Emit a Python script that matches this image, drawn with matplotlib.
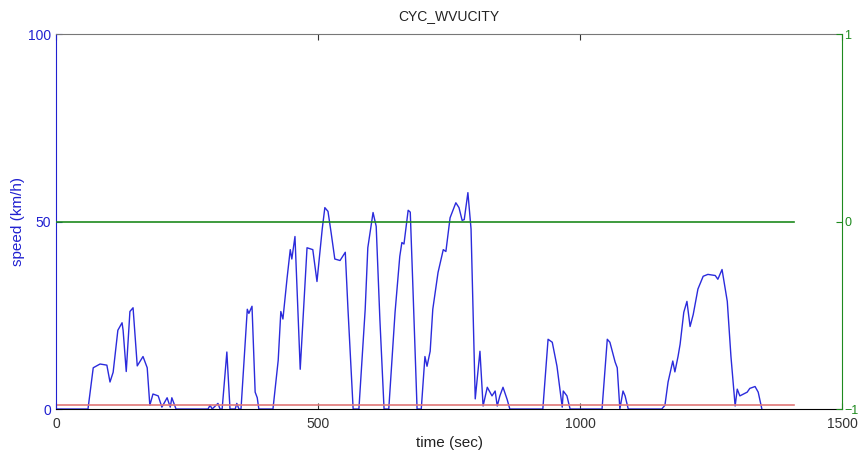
import matplotlib.pyplot as plt
import numpy as np

plt.rcParams['font.family'] = ['Liberation Sans', 'DejaVu Sans']

# speed trace (time in sec, speed in km/h)
time_sec = [0, 61, 71, 84, 97, 103, 109, 118, 126, 128, 134, 141, 147, 155, 166, 174,
            179, 185, 195, 202, 212, 218, 221, 229, 290, 294, 298, 309, 313, 317, 326,
            332, 342, 345, 349, 353, 365, 368, 374, 380, 384, 387, 414, 424, 429, 433,
            441, 447, 450, 456, 466, 479, 490, 498, 508, 513, 519, 525, 532, 542, 552,
            557, 567, 578, 590, 595, 605, 611, 618, 626, 635, 647, 656, 660, 664, 672,
            676, 681, 689, 697, 704, 708, 714, 719, 729, 739, 744, 752, 763, 769, 775,
            779, 786, 792, 800, 809, 815, 823, 832, 838, 842, 847, 853, 861, 866, 929,
            939, 947, 956, 966, 968, 975, 981, 1042, 1052, 1057, 1067, 1071, 1076, 1082,
            1086, 1092, 1156, 1162, 1168, 1177, 1181, 1187, 1191, 1198, 1204, 1210, 1216,
            1225, 1235, 1244, 1258, 1263, 1271, 1281, 1288, 1296, 1300, 1305, 1319, 1324,
            1334, 1340, 1347]
speed_kmh = [0, 0, 11, 12, 11.7, 7.2, 9.8, 21, 23, 21, 10, 26, 27, 11.5, 14, 11,
             1, 4, 3.5, 0.5, 3, 0.5, 3, 0, 0, 1, 0, 1.5, 0, 0, 15.2,
             0, 0, 1.5, 0, 0, 26.6, 25.5, 27.4, 4.5, 3, 0, 0, 13, 26, 24,
             35, 42.5, 40, 46, 10.6, 43, 42.5, 34, 48, 53.7, 52.7, 47, 40, 39.6, 41.8,
             27, 0, 0, 26.6, 43, 52.4, 48.7, 24, 0, 0, 25.8, 40.7, 44.4, 44, 53,
             52.5, 32.7, 0, 0, 14, 11.4, 15.4, 26.6, 36.4, 42.5, 42, 51, 55, 53.7, 50.3,
             50.5, 57.7, 48, 2.7, 15.4, 0.8, 5.8, 3.5, 4.8, 0.8, 3.5, 5.8, 2.5, 0, 0,
             18.6, 17.8, 11.4, 0.5, 4.8, 3.5, 0, 0, 18.6, 17.8, 12.5, 11, 0, 4.8,
             3.5, 0, 0, 1, 7.2, 12.8, 9.9, 14, 17.3, 25.8, 28.7, 22, 25.2,
             32, 35.4, 35.9, 35.6, 34.6, 37.2, 28.7, 14, 0.8, 5.3, 3.5, 4.5, 5.5,
             6, 4.5, 0]

cycle_end = 1408
red_level = 1      # left axis (km/h)
green_level = 0    # right axis

fig = plt.figure(figsize=(8.58, 4.57), dpi=100)
ax = fig.add_axes([0.0653, 0.105, 0.9161, 0.8206])

ax.plot(time_sec, speed_kmh, color='#2b2bdc', linewidth=1.0)
ax.plot([0, cycle_end], [red_level, red_level], color='#e07878', linewidth=1.2)
ax.set_xlim(0, 1500)
ax.set_ylim(0, 100)
ax.set_xticks([0, 500, 1000, 1500])
ax.set_yticks([0, 50, 100])
ax.tick_params(axis='x', direction='in', top=True, length=4, colors='#333333',
               labelsize=10, pad=6)
ax.tick_params(axis='y', direction='in', length=4, colors='#2020d0', labelsize=10)
ax.spines['left'].set_color('#2020d0')
ax.spines['bottom'].set_color('black')
ax.spines['top'].set_color('#777777')
ax.spines['right'].set_visible(False)
ax.set_ylabel('speed (km/h)', color='#2020d0', fontsize=11, labelpad=2)
ax.set_xlabel('time (sec)', color='#222222', fontsize=11, labelpad=3)
ax.set_title('CYC_WVUCITY', fontsize=10, color='#222222', pad=10)

ax2 = ax.twinx()
ax2.plot([0, cycle_end], [green_level, green_level], color='#1e8a1e', linewidth=1.2)
ax2.set_ylim(-1, 1)
ax2.set_yticks([-1, 0, 1])
ax2.tick_params(axis='y', direction='in', length=4, colors='#1e8a1e', labelsize=9,
                pad=1.5)
ax2.spines['right'].set_color('#1e8a1e')
for s in ['left', 'top', 'bottom']:
    ax2.spines[s].set_visible(False)

fig.savefig('out.png', dpi=100)
